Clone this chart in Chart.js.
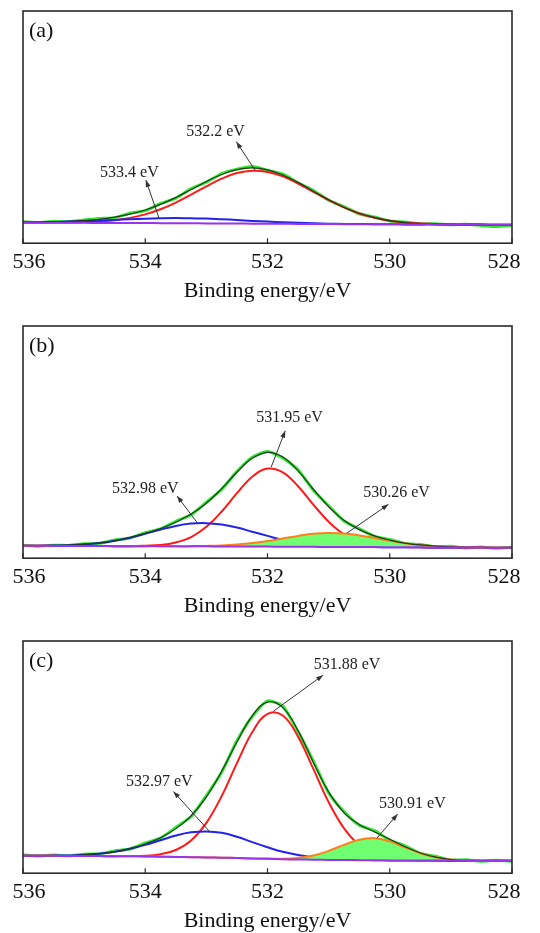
<!DOCTYPE html>
<html>
<head>
<meta charset="utf-8">
<script src="https://cdn.jsdelivr.net/npm/chart.js@4.4.0/dist/chart.umd.min.js"></script>
<style>
html, body { margin: 0; padding: 0; background: #fff; overflow: hidden; width: 540px; height: 933px; }
.panel { position: absolute; left: 0; width: 540px; height: 315px; }
</style>
</head>
<body>
<div class="panel" style="top:0px"><canvas id="chartA"></canvas></div>
<div class="panel" style="top:315px"><canvas id="chartB"></canvas></div>
<div class="panel" style="top:630px"><canvas id="chartC"></canvas></div>
<script>
// binding energy grid (eV), shared by all three spectra
const energy = [536, 535.75, 535.5, 535.25, 535, 534.75, 534.5, 534.25, 534, 533.75, 533.5, 533.25,
  533, 532.75, 532.5, 532.25, 532, 531.75, 531.5, 531.25, 531, 530.75, 530.5, 530.25,
  530, 529.75, 529.5, 529.25, 529, 528.75, 528.5, 528.25, 528];
const tickValues = [536, 534, 532, 530, 528];
const axisTitle = 'Binding energy/eV';

// (a)
const rawA      = [9.2,8.9,9.4,9.3,10.0,10.6,11.0,12.9,14.0,17.1,19.4,23.5,26.3,30.0,31.9,33.0,31.4,29.8,26.0,22.7,18.5,15.8,12.7,11.3,9.6,9.1,8.3,8.4,7.9,8.2,7.6,7.2,7.8];
const envelopeA = [9.0,9.1,9.2,9.4,9.8,10.3,11.2,12.5,14.3,16.7,19.7,23.1,26.6,29.6,31.7,32.4,31.6,29.4,26.2,22.4,18.7,15.4,12.9,11.0,9.7,8.9,8.5,8.2,8.1,8.0,8.0,7.9,7.9];
const o532A     = [8.9,8.9,8.9,8.9,9.1,9.4,9.9,10.9,12.4,14.6,17.5,20.9,24.5,27.8,30.2,31.2,30.7,28.8,25.7,22.1,18.6,15.4,12.8,11.0,9.7,8.9,8.5,8.2,8.1,8.0,8.0,7.9,7.9];
const o533A     = [9.0,9.1,9.1,9.3,9.5,9.7,10.0,10.3,10.5,10.7,10.8,10.7,10.6,10.3,10.0,9.6,9.3,9.0,8.8,8.6,8.4,8.3,8.3,8.2,8.2,8.1,8.1,8.1,8.0,8.0,8.0,7.9,7.9];
const baseA     = [8.9,8.9,8.8,8.8,8.8,8.7,8.7,8.7,8.7,8.6,8.6,8.6,8.5,8.5,8.5,8.4,8.4,8.4,8.3,8.3,8.3,8.2,8.2,8.2,8.2,8.1,8.1,8.1,8.0,8.0,8.0,7.9,7.9];
const peakLabelsA = ['532.2 eV', '533.4 eV'];

// (b)
const rawB      = [5.6,5.2,5.6,5.5,6.2,6.4,7.8,8.7,11.0,12.6,15.9,18.7,24.1,29.6,37.4,43.5,45.9,43.2,38.1,29.3,22.6,16.0,12.7,9.4,8.1,6.3,5.9,4.9,5.1,4.4,4.8,4.3,4.7];
const envelopeB = [5.4,5.4,5.5,5.6,6.0,6.6,7.5,8.9,10.7,12.8,15.5,19.0,23.7,30.0,37.0,43.0,45.6,43.6,37.6,29.7,22.2,16.3,12.3,9.6,7.8,6.5,5.7,5.2,4.9,4.7,4.6,4.5,4.5];
const o531B     = [5.4,5.4,5.3,5.3,5.3,5.3,5.2,5.2,5.4,5.7,6.8,9.1,13.5,20.1,28.0,35.1,38.6,37.0,31.0,23.1,15.7,10.3,7.2,5.6,5.0,4.8,4.7,4.6,4.6,4.6,4.6,4.5,4.5];
const o533B     = [5.4,5.4,5.5,5.6,6.0,6.5,7.5,8.8,10.5,12.3,13.9,14.9,15.1,14.5,13.2,11.4,9.6,7.9,6.7,5.9,5.3,5.0,4.9,4.8,4.7,4.7,4.7,4.6,4.6,4.6,4.6,4.5,4.5];
const o530B     = [5.4,5.4,5.3,5.3,5.3,5.3,5.2,5.2,5.2,5.2,5.2,5.2,5.3,5.5,5.9,6.5,7.4,8.5,9.6,10.5,10.8,10.6,9.8,8.7,7.5,6.4,5.7,5.2,4.9,4.7,4.6,4.5,4.5];
const baseB     = [5.4,5.4,5.3,5.3,5.3,5.3,5.2,5.2,5.2,5.2,5.1,5.1,5.1,5.0,5.0,5.0,5.0,4.9,4.9,4.9,4.8,4.8,4.8,4.8,4.7,4.7,4.7,4.6,4.6,4.6,4.6,4.5,4.5];
const peakLabelsB = ['531.95 eV', '532.98 eV', '530.26 eV'];

// (c)
const rawC      = [7.9,7.4,7.8,7.5,8.2,8.3,9.6,10.4,13.0,15.1,19.7,24.4,33.4,43.5,57.0,67.4,74.2,72.0,60.9,48.3,34.6,26.6,20.7,18.3,14.3,11.8,8.5,7.3,5.7,5.8,5.2,5.6,5.1];
const envelopeC = [7.5,7.5,7.6,7.6,7.9,8.4,9.2,10.6,12.6,15.3,19.2,24.7,32.9,43.9,56.5,67.8,73.7,71.3,61.4,47.7,35.0,26.1,21.0,17.8,14.6,11.4,8.7,6.9,5.9,5.5,5.4,5.4,5.4];
const o531C     = [7.5,7.5,7.5,7.4,7.4,7.4,7.3,7.4,7.5,8.2,10.0,14.1,21.7,33.2,47.4,60.7,68.6,67.9,58.8,44.9,30.6,19.4,12.1,8.3,6.5,5.8,5.6,5.5,5.4,5.4,5.4,5.4,5.4];
const o533C     = [7.5,7.5,7.6,7.6,7.9,8.4,9.2,10.5,12.2,14.2,16.2,17.6,18.0,17.4,15.7,13.4,11.2,9.2,7.8,6.8,6.2,5.9,5.7,5.6,5.5,5.5,5.5,5.5,5.4,5.4,5.4,5.4,5.4];
const o530C     = [7.5,7.5,7.5,7.4,7.4,7.4,7.3,7.3,7.2,7.1,7.0,6.9,6.8,6.7,6.5,6.3,6.3,6.2,6.6,7.6,9.6,12.2,14.4,15.1,13.7,11.1,8.6,6.9,5.9,5.5,5.4,5.4,5.4];
const baseC     = [7.5,7.5,7.5,7.4,7.4,7.4,7.3,7.3,7.2,7.1,7.0,6.9,6.8,6.7,6.5,6.3,6.2,6.0,5.9,5.8,5.7,5.7,5.6,5.6,5.5,5.5,5.5,5.5,5.4,5.4,5.4,5.4,5.4];
const peakLabelsC = ['531.88 eV', '532.97 eV', '530.91 eV'];

const serif = '"Liberation Serif", "Times New Roman", serif';
const fillGreen = '#70ff70';

function pts(vals) {
  return energy.map((e, i) => ({x: e, y: vals[i]}));
}

function line(label, vals, color, width, order, extra) {
  return Object.assign({
    label: label,
    data: pts(vals),
    borderColor: color,
    backgroundColor: color,
    borderWidth: width,
    pointRadius: 0,
    fill: false,
    order: order,
    tension: 0.4
  }, extra || {});
}

// box, inward ticks, tick labels, panel letter and the peak notes with arrows
function framePlugin(tag, notes) {
  return {
    id: 'frame',
    afterDatasetsDraw(chart) {
      const ctx = chart.ctx, a = chart.chartArea, x = chart.scales.x, y = chart.scales.y;
      ctx.save();
      ctx.strokeStyle = '#2a2a2a';
      ctx.lineWidth = 1.2;
      ctx.beginPath();
      tickValues.forEach(t => {
        const px = x.getPixelForValue(t);
        ctx.moveTo(px, a.bottom);
        ctx.lineTo(px, a.bottom - 5);
      });
      ctx.stroke();
      ctx.lineWidth = 1.6;
      ctx.strokeRect(a.left, a.top, a.right - a.left, a.bottom - a.top);

      // the end labels sit a little inside the box edges, as in the original
      ctx.fillStyle = '#111';
      ctx.font = '22px ' + serif;
      ctx.textAlign = 'center';
      ctx.textBaseline = 'alphabetic';
      tickValues.forEach((t, i) => {
        let nudge = 0;
        if (i === 0) nudge = 6;
        if (i === tickValues.length - 1) nudge = -8;
        ctx.fillText(String(t), x.getPixelForValue(t) + nudge, a.bottom + 25);
      });

      ctx.textAlign = 'left';
      ctx.textBaseline = 'middle';
      ctx.fillText(tag, a.left + 6, a.top + 20);

      ctx.font = '16px ' + serif;
      ctx.textAlign = 'center';
      notes.forEach(n => {
        ctx.fillStyle = '#222';
        ctx.fillText(n.text, x.getPixelForValue(n.at[0]), y.getPixelForValue(n.at[1]));
        const x0 = x.getPixelForValue(n.from[0]), y0 = y.getPixelForValue(n.from[1]);
        const x1 = x.getPixelForValue(n.to[0]), y1 = y.getPixelForValue(n.to[1]);
        ctx.strokeStyle = '#333';
        ctx.lineWidth = 1;
        ctx.beginPath();
        ctx.moveTo(x0, y0);
        ctx.lineTo(x1, y1);
        ctx.stroke();
        const ang = Math.atan2(y1 - y0, x1 - x0);
        ctx.fillStyle = '#333';
        ctx.beginPath();
        ctx.moveTo(x1, y1);
        ctx.lineTo(x1 - 7 * Math.cos(ang) + 2.5 * Math.sin(ang), y1 - 7 * Math.sin(ang) - 2.5 * Math.cos(ang));
        ctx.lineTo(x1 - 7 * Math.cos(ang) - 2.5 * Math.sin(ang), y1 - 7 * Math.sin(ang) + 2.5 * Math.cos(ang));
        ctx.closePath();
        ctx.fill();
      });
      ctx.restore();
    }
  };
}

function makePanel(id, tag, datasets, notes) {
  new Chart(document.getElementById(id), {
    type: 'line',
    data: {datasets: datasets},
    options: {
      responsive: true,
      maintainAspectRatio: false,
      animation: false,
      layout: {padding: {left: 23, right: 28, top: 11, bottom: 11}},
      plugins: {legend: {display: false}, tooltip: {enabled: false}},
      scales: {
        x: {
          type: 'linear',
          min: 528,
          max: 536,
          reverse: true,
          afterBuildTicks: s => { s.ticks = tickValues.map(v => ({value: v})); },
          grid: {display: false, drawTicks: false},
          border: {display: false},
          ticks: {
            // the scale keeps the room for the labels; the plugin paints them
            color: 'rgba(0,0,0,0)',
            padding: 6,
            maxRotation: 0,
            autoSkip: false,
            font: {family: serif, size: 22}
          },
          title: {
            display: true,
            text: axisTitle,
            color: '#111',
            padding: {top: -4, bottom: 0},
            font: {family: serif, size: 22}
          }
        },
        y: {display: false, min: 0, max: 100}
      }
    },
    plugins: [framePlugin(tag, notes)]
  });
}

makePanel('chartA', '(a)', [
  line('raw', rawA, '#2ee82e', 3, 6, {tension: 0.2}),
  line('532.2', o532A, '#ff1a1a', 2, 5),
  line('533.4', o533A, '#2222ee', 2, 4),
  line('fit', envelopeA, '#1c3a1c', 1.2, 2),
  line('background', baseA, '#9a33ee', 2, 1)
], [
  {text: peakLabelsA[0], at: [532.85, 48.0], from: [532.2, 31.3], to: [532.51, 43.7]},
  {text: peakLabelsA[1], at: [534.26, 30.5], from: [533.77, 10.4], to: [533.99, 27.2]}
]);

makePanel('chartB', '(b)', [
  line('raw', rawB, '#2ee82e', 3, 6, {tension: 0.2}),
  line('531.95', o531B, '#ff1a1a', 2, 5),
  line('532.98', o533B, '#2222ee', 2, 4),
  line('530.26', o530B, '#ff7f1a', 2, 3, {fill: {target: 5, above: fillGreen, below: fillGreen}, backgroundColor: fillGreen}),
  line('fit', envelopeB, '#1c3a1c', 1.2, 2),
  line('background', baseB, '#9a33ee', 2, 1)
], [
  {text: peakLabelsB[0], at: [531.64, 60.3], from: [531.94, 39.2], to: [531.71, 54.9]},
  {text: peakLabelsB[1], at: [534.0, 30.1], from: [533.15, 15.3], to: [533.48, 26.8]},
  {text: peakLabelsB[2], at: [529.89, 28.0], from: [530.70, 10.8], to: [530.02, 23.2]}
]);

makePanel('chartC', '(c)', [
  line('raw', rawC, '#2ee82e', 3, 6, {tension: 0.2}),
  line('531.88', o531C, '#ff1a1a', 2, 5),
  line('532.97', o533C, '#2222ee', 2, 4),
  line('530.91', o530C, '#ff7f1a', 2, 3, {fill: {target: 5, above: fillGreen, below: fillGreen}, backgroundColor: fillGreen}),
  line('fit', envelopeC, '#1c3a1c', 1.2, 2),
  line('background', baseC, '#9a33ee', 2, 1)
], [
  {text: peakLabelsC[0], at: [530.70, 89.9], from: [531.9, 69.8], to: [531.09, 85.3]},
  {text: peakLabelsC[1], at: [533.77, 39.3], from: [532.95, 18.0], to: [533.54, 35.2]},
  {text: peakLabelsC[2], at: [529.63, 29.8], from: [530.21, 15.1], to: [529.87, 25.5]}
]);
</script>
</body>
</html>
